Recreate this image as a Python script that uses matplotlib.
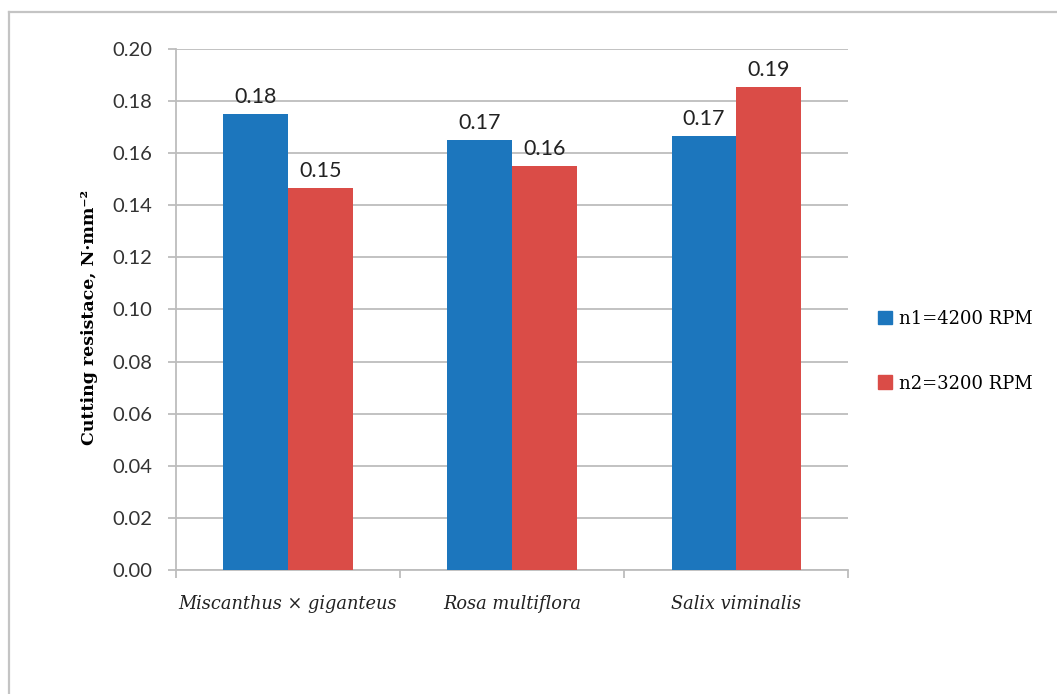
import numpy as np
import matplotlib.pyplot as plt
from matplotlib.lines import Line2D
from matplotlib.patches import Patch

# cutting resistance per species at two rotor speeds
species = ['Miscanthus × giganteus', 'Rosa multiflora', 'Salix viminalis']
n1_4200 = [0.1752, 0.1652, 0.1666]
n2_3200 = [0.1466, 0.1552, 0.1853]
series_names = ['n1=4200 RPM', 'n2=3200 RPM']
yticks = [0.00, 0.02, 0.04, 0.06, 0.08, 0.10, 0.12, 0.14, 0.16, 0.18, 0.20]

blue = '#1c76bd'
red = '#da4c47'
grid_col = '#bdbdbd'

fig = plt.figure(figsize=(10.57, 6.94), dpi=100)
ax = fig.add_axes([0.1665, 0.1787, 0.6358, 0.7507])

x = np.arange(len(species))
w = 0.288
b1 = ax.bar(x - w / 2, n1_4200, w, color=blue, zorder=3)
b2 = ax.bar(x + w / 2, n2_3200, w, color=red, zorder=3)

# value labels above each bar
for bars, vals in ((b1, n1_4200), (b2, n2_3200)):
    for rect, v in zip(bars, vals):
        ax.annotate(f'{v:.2f}', (rect.get_x() + rect.get_width() / 2, v),
                    xytext=(0, 5), textcoords='offset points',
                    ha='center', va='bottom', fontsize=15.5, family='Lato',
                    color='#222222')

ax.set_xlim(-0.5, len(species) - 0.5)
ax.set_ylim(0, 0.20)
ax.set_yticks(yticks)
ax.set_yticklabels([f'{t:.2f}' for t in yticks], family='Lato', fontsize=14.5,
                   color='#333333')
ax.yaxis.grid(True, color=grid_col, lw=1.3, zorder=0)
ax.tick_params(axis='y', length=6, width=1.3, color=grid_col, pad=11)

# category boundaries as ticks, names centred under each group
ax.set_xticks(np.arange(len(species) + 1) - 0.5)
ax.set_xticklabels([])
ax.set_xticks(x, minor=True)
ax.set_xticklabels(species, minor=True, family='DejaVu Serif', style='italic',
                   fontsize=12.8, color='#222222')
ax.tick_params(axis='x', which='major', length=6, width=1.3, color=grid_col)
ax.tick_params(axis='x', which='minor', length=0, pad=18)

for s in ('top', 'right'):
    ax.spines[s].set_visible(False)
for s in ('left', 'bottom'):
    ax.spines[s].set_color(grid_col)
    ax.spines[s].set_linewidth(1.3)

ax.set_ylabel('Cutting resistace, N·mm⁻²', family='DejaVu Serif',
              fontweight='bold', fontsize=12.5)
ax.yaxis.set_label_coords(-0.116, 0.485)

handles = [Patch(color=blue), Patch(color=red)]
leg = fig.legend(handles, series_names, loc='center left',
                 bbox_to_anchor=(0.815, 0.494), frameon=False,
                 handlelength=0.8, handleheight=0.8, handletextpad=0.4,
                 labelspacing=2.6, prop={'family': 'DejaVu Serif', 'size': 13})

# outer chart frame
fig.add_artist(Line2D([0.0085, 0.0085], [0, 0.9827], color='#c4c4c4', lw=1.6,
                      transform=fig.transFigure))
fig.add_artist(Line2D([0.0085, 1.0], [0.9827, 0.9827], color='#c4c4c4', lw=1.6,
                      transform=fig.transFigure))

fig.savefig('out.png', dpi=100)
